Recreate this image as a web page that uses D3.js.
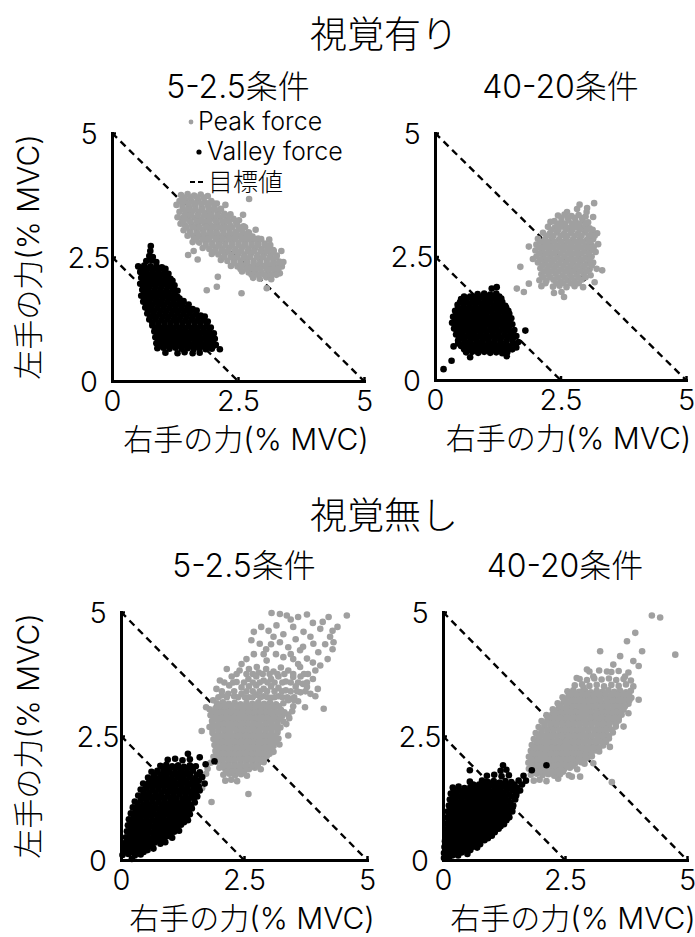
<!DOCTYPE html>
<html>
<head>
<meta charset="utf-8">
<script src="https://cdn.jsdelivr.net/npm/d3@7"></script>
<style>
  html, body { margin: 0; padding: 0; background: #fff; }
  svg text { font-family: "Inter", "Liberation Sans", "Noto Sans CJK JP", sans-serif; font-weight: 300; fill: #000; }
</style>
</head>
<body>
<svg id="chart" width="695" height="937"></svg>
<script>
// ---- labels ----
const visionTitles = ["視覚有り", "視覚無し"];
const conditionTitles = ["5-2.5条件", "40-20条件"];
const xTitle = "右手の力(% MVC)";
const yTitle = "左手の力(% MVC)";
const legendLabels = ["Peak force", "Valley force", "目標値"];
const tickValues = [0, 2.5, 5];
const tickLabels = ["0", "2.5", "5"];
// target lines: right + left = total
const targetTotals = [5, 2.5];

// ---- [right, left] force pairs (% MVC) ----
// with vision, 5-2.5 condition
const peakSeeA = [
 [1.37,3.75],[1.50,3.77],[1.63,3.74],[1.76,3.76],[1.90,3.73],[2.72,3.67],
 [1.34,3.63],[1.46,3.65],[1.58,3.62],[1.71,3.64],[1.84,3.61],[1.97,3.63],[2.08,3.58],
 [1.40,3.52],[1.53,3.50],[1.65,3.53],[1.78,3.51],[1.91,3.52],[2.03,3.49],[2.16,3.47],
 [1.34,3.41],[1.47,3.39],[1.59,3.42],[1.72,3.40],[1.85,3.38],[1.97,3.41],[2.10,3.39],[2.23,3.37],[2.35,3.36],
 [1.38,3.28],[1.51,3.27],[1.64,3.29],[1.77,3.26],[1.90,3.28],[2.02,3.27],[2.15,3.29],[2.28,3.25],[2.41,3.27],[2.52,3.24],
 [1.36,3.17],[1.45,3.14],[1.58,3.16],[1.71,3.15],[1.84,3.17],[1.96,3.14],[2.09,3.16],[2.22,3.15],[2.35,3.13],[2.48,3.16],[2.61,3.12],
 [1.42,3.04],[1.55,3.02],[1.68,3.05],[1.81,3.03],[1.94,3.04],[2.07,3.02],[2.20,3.05],[2.33,3.03],[2.46,3.01],[2.58,3.04],[2.71,3.00],
 [1.50,2.93],[1.62,2.91],[1.75,2.92],[1.88,2.90],[2.01,2.93],[2.14,2.91],[2.27,2.92],[2.40,2.90],[2.53,2.92],[2.66,2.89],[2.79,2.91],[2.90,2.87],
 [1.60,2.80],[1.73,2.79],[1.86,2.81],[1.99,2.78],[2.12,2.80],[2.25,2.79],[2.38,2.81],[2.51,2.78],[2.64,2.80],[2.77,2.78],[2.90,2.79],[3.03,2.77],
 [1.80,2.68],[1.93,2.66],[2.06,2.69],[2.19,2.67],[2.32,2.68],[2.45,2.66],[2.58,2.69],[2.71,2.67],[2.84,2.68],[2.97,2.66],[3.10,2.67],[3.20,2.64],
 [1.51,2.54],[1.98,2.56],[2.11,2.55],[2.24,2.57],[2.37,2.54],[2.50,2.56],[2.63,2.55],[2.76,2.57],[2.89,2.54],[3.02,2.56],[3.15,2.55],[3.27,2.53],
 [2.16,2.44],[2.29,2.42],[2.42,2.45],[2.55,2.43],[2.68,2.44],[2.81,2.42],[2.94,2.45],[3.07,2.43],[3.20,2.44],[3.32,2.41],
 [2.36,2.32],[2.49,2.31],[2.62,2.33],[2.75,2.30],[2.88,2.32],[3.01,2.31],[3.14,2.33],[3.27,2.30],[3.37,2.31],
 [2.58,2.21],[2.71,2.19],[2.84,2.20],[2.97,2.18],[3.10,2.21],[3.23,2.19],[3.33,2.17],
 [2.10,2.10],[2.80,2.08],[2.93,2.06],[3.06,2.09],[3.16,2.05],
 [1.88,1.83],[2.08,1.90],[2.57,1.77],[3.07,1.87],[1.70,2.45],
 [1.30,3.30],[1.28,3.55],[2.25,3.55],[2.60,3.35],[2.85,3.05],[3.12,2.85],[3.40,2.40],[3.36,2.62],[1.62,2.62]
];
// dense core, listed row by row as [left, [right, ...]]
const peakSeeARows = [
 [3.70,[1.43,1.56,1.69,1.82]],
 [3.58,[1.40,1.52,1.64,1.77,1.90,2.02]],
 [3.46,[1.41,1.53,1.66,1.79,1.92,2.04,2.16]],
 [3.34,[1.44,1.57,1.70,1.83,1.96,2.09,2.22,2.34]],
 [3.22,[1.42,1.55,1.68,1.80,1.93,2.06,2.19,2.32,2.45]],
 [3.10,[1.48,1.61,1.74,1.87,2.00,2.13,2.26,2.39,2.52,2.64]],
 [2.98,[1.56,1.69,1.82,1.95,2.08,2.21,2.34,2.47,2.60,2.72]],
 [2.86,[1.67,1.80,1.93,2.06,2.19,2.32,2.45,2.58,2.71,2.84,2.96]],
 [2.74,[1.86,1.99,2.12,2.25,2.38,2.51,2.64,2.77,2.90,3.03,3.14]],
 [2.62,[2.04,2.17,2.30,2.43,2.56,2.69,2.82,2.95,3.08,3.21]],
 [2.50,[2.22,2.35,2.48,2.61,2.74,2.87,3.00,3.13,3.26]],
 [2.38,[2.42,2.55,2.68,2.81,2.94,3.07,3.20,3.32]],
 [2.26,[2.55,2.68,2.81,2.94,3.07,3.20,3.30]],
 [2.14,[2.77,2.90,3.03,3.16,3.26]]
];
const valleySeeA = [
 [0.77,2.72],[0.76,2.62],[0.74,2.52],[0.81,2.50],
 [0.68,2.42],[0.79,2.43],[0.88,2.40],
 [0.52,2.31],[0.64,2.33],[0.76,2.31],[0.88,2.32],[0.99,2.29],
 [0.56,2.20],[0.68,2.21],[0.80,2.19],[0.92,2.21],[1.04,2.18],[1.12,2.16],
 [0.58,2.08],[0.70,2.09],[0.82,2.07],[0.94,2.09],[1.06,2.07],[1.16,2.06],
 [0.56,1.96],[0.68,1.97],[0.80,1.95],[0.92,1.97],[1.04,1.95],[1.16,1.96],[1.24,1.93],
 [0.60,1.84],[0.72,1.85],[0.84,1.83],[0.96,1.85],[1.08,1.83],[1.20,1.84],[1.30,1.82],
 [0.58,1.72],[0.70,1.73],[0.82,1.71],[0.94,1.73],[1.06,1.71],[1.18,1.72],[1.30,1.70],
 [0.62,1.60],[0.74,1.61],[0.86,1.59],[0.98,1.61],[1.10,1.59],[1.22,1.60],[1.34,1.58],[1.42,1.61],
 [0.66,1.48],[0.78,1.49],[0.90,1.47],[1.02,1.49],[1.14,1.47],[1.26,1.48],[1.38,1.46],[1.50,1.48],[1.60,1.45],
 [0.70,1.36],[0.82,1.37],[0.94,1.35],[1.06,1.37],[1.18,1.35],[1.30,1.36],[1.42,1.34],[1.54,1.36],[1.66,1.34],[1.76,1.32],
 [0.74,1.24],[0.86,1.25],[0.98,1.23],[1.10,1.25],[1.22,1.23],[1.34,1.24],[1.46,1.22],[1.58,1.24],[1.70,1.22],[1.82,1.23],[1.90,1.20],
 [0.80,1.12],[0.92,1.13],[1.04,1.11],[1.16,1.13],[1.28,1.11],[1.40,1.12],[1.52,1.10],[1.64,1.12],[1.76,1.10],[1.88,1.11],[1.96,1.08],
 [0.84,1.00],[0.96,1.01],[1.08,0.99],[1.20,1.01],[1.32,0.99],[1.44,1.00],[1.56,0.98],[1.68,1.00],[1.80,0.98],[1.92,0.99],[2.02,0.96],
 [0.86,0.88],[0.98,0.89],[1.10,0.87],[1.22,0.89],[1.34,0.87],[1.46,0.88],[1.58,0.86],[1.70,0.88],[1.82,0.86],[1.94,0.87],[2.04,0.85],
 [0.88,0.76],[1.00,0.77],[1.12,0.75],[1.24,0.77],[1.36,0.75],[1.48,0.76],[1.60,0.74],[1.72,0.76],[1.84,0.74],[1.96,0.75],[2.06,0.73],
 [0.90,0.66],[1.02,0.67],[1.14,0.65],[1.26,0.67],[1.38,0.65],[1.50,0.66],[1.62,0.64],[1.74,0.66],[1.86,0.64],[1.98,0.65],[2.14,0.64],
 [1.06,0.57],[1.30,0.56],[1.44,0.58],[1.60,0.56],[1.74,0.57]
];
const valleySeeARows = [
 [2.26,[0.58,0.70,0.82,0.94,1.06]],
 [2.14,[0.62,0.74,0.86,0.98,1.10]],
 [2.02,[0.62,0.74,0.86,0.98,1.10,1.20]],
 [1.90,[0.62,0.74,0.86,0.98,1.10,1.22]],
 [1.78,[0.64,0.76,0.88,1.00,1.12,1.24]],
 [1.66,[0.64,0.76,0.88,1.00,1.12,1.24,1.34]],
 [1.54,[0.68,0.80,0.92,1.04,1.16,1.28,1.40,1.52]],
 [1.42,[0.72,0.84,0.96,1.08,1.20,1.32,1.44,1.56,1.68]],
 [1.30,[0.76,0.88,1.00,1.12,1.24,1.36,1.48,1.60,1.72,1.84]],
 [1.18,[0.80,0.92,1.04,1.16,1.28,1.40,1.52,1.64,1.76,1.88]],
 [1.06,[0.86,0.98,1.10,1.22,1.34,1.46,1.58,1.70,1.82,1.94]],
 [0.94,[0.90,1.02,1.14,1.26,1.38,1.50,1.62,1.74,1.86,1.98]],
 [0.82,[0.92,1.04,1.16,1.28,1.40,1.52,1.64,1.76,1.88,2.00]],
 [0.71,[0.94,1.06,1.18,1.30,1.42,1.54,1.66,1.78,1.90,2.02]]
];
// with vision, 40-20 condition
const peakSeeB = [
 [3.17,3.58],[3.03,3.48],[2.83,3.46],[2.63,3.40],
 [2.45,3.33],[2.58,3.35],[2.72,3.32],[2.86,3.34],[3.00,3.31],
 [2.38,3.22],[2.52,3.20],[2.66,3.23],[2.80,3.21],[2.94,3.22],[3.05,3.19],
 [2.25,3.10],[2.39,3.09],[2.53,3.11],[2.67,3.08],[2.81,3.10],[2.95,3.09],[3.08,3.07],
 [2.15,2.98],[2.29,2.97],[2.43,2.99],[2.57,2.96],[2.71,2.98],[2.85,2.97],[2.99,2.99],[3.12,2.96],[3.23,2.97],
 [2.05,2.86],[2.19,2.85],[2.33,2.87],[2.47,2.84],[2.61,2.86],[2.75,2.85],[2.89,2.87],[3.03,2.84],[3.15,2.85],[1.87,2.70],
 [2.02,2.74],[2.16,2.73],[2.30,2.75],[2.44,2.72],[2.58,2.74],[2.72,2.73],[2.86,2.75],[3.00,2.72],[3.12,2.73],
 [2.00,2.62],[2.14,2.61],[2.28,2.63],[2.42,2.60],[2.56,2.62],[2.70,2.61],[2.84,2.63],[2.98,2.60],[3.10,2.62],[3.20,2.59],
 [2.02,2.50],[2.16,2.49],[2.30,2.51],[2.44,2.48],[2.58,2.50],[2.72,2.49],[2.86,2.51],[3.00,2.48],[3.12,2.50],
 [1.70,2.29],[2.05,2.38],[2.19,2.37],[2.33,2.39],[2.47,2.36],[2.61,2.38],[2.75,2.37],[2.89,2.39],[3.03,2.36],[3.15,2.38],
 [2.10,2.26],[2.24,2.25],[2.38,2.27],[2.52,2.24],[2.66,2.26],[2.80,2.25],[2.94,2.27],[3.08,2.24],[3.33,2.22],
 [2.12,2.14],[2.26,2.13],[2.40,2.15],[2.54,2.12],[2.68,2.14],[2.82,2.13],[2.96,2.15],[3.10,2.12],
 [2.08,2.02],[2.22,2.01],[2.36,2.03],[2.50,2.00],[2.64,2.02],[2.78,2.01],[2.92,2.03],[3.18,1.98],
 [1.63,1.85],[1.77,1.78],[1.87,1.95],[2.12,1.90],[2.35,1.89],[2.48,1.91],[2.62,1.88],[2.78,1.90],[2.95,1.88],
 [2.37,1.76],[2.52,1.78],[2.57,1.68],
 [2.30,3.20],[3.15,3.30],[3.25,2.75],[1.95,2.45],[3.22,2.25],[2.88,3.55],[3.02,3.40]
];
const peakSeeBRows = [
 [3.28,[2.52,2.65,2.79,2.93]],
 [3.16,[2.45,2.59,2.73,2.87,3.01]],
 [3.04,[2.32,2.46,2.60,2.74,2.88,3.02,3.14]],
 [2.92,[2.22,2.36,2.50,2.64,2.78,2.92,3.06,3.18]],
 [2.80,[2.10,2.24,2.38,2.52,2.66,2.80,2.94,3.08]],
 [2.68,[2.08,2.22,2.36,2.50,2.64,2.78,2.92,3.06,3.16]],
 [2.56,[2.08,2.22,2.36,2.50,2.64,2.78,2.92,3.06]],
 [2.44,[2.10,2.24,2.38,2.52,2.66,2.80,2.94,3.08]],
 [2.32,[2.14,2.28,2.42,2.56,2.70,2.84,2.98,3.12]],
 [2.20,[2.18,2.32,2.46,2.60,2.74,2.88,3.02]],
 [2.08,[2.16,2.30,2.44,2.58,2.72,2.86,3.00]],
 [1.96,[2.20,2.42,2.56,2.70,2.86]]
];
const valleySeeB = [
 [1.13,1.85],[1.23,1.88],
 [0.85,1.74],[0.98,1.75],[1.10,1.73],[1.22,1.75],
 [0.52,1.64],[0.64,1.65],[0.76,1.63],[0.88,1.65],[1.00,1.63],[1.12,1.64],[1.24,1.62],[1.32,1.65],
 [0.45,1.52],[0.57,1.53],[0.69,1.51],[0.81,1.53],[0.93,1.51],[1.05,1.52],[1.17,1.50],[1.29,1.52],[1.40,1.50],
 [0.40,1.40],[0.52,1.41],[0.64,1.39],[0.76,1.41],[0.88,1.39],[1.00,1.40],[1.12,1.38],[1.24,1.40],[1.36,1.38],[1.46,1.40],
 [0.36,1.28],[0.48,1.29],[0.60,1.27],[0.72,1.29],[0.84,1.27],[0.96,1.28],[1.08,1.26],[1.20,1.28],[1.32,1.26],[1.44,1.28],[1.52,1.25],
 [0.34,1.16],[0.46,1.17],[0.58,1.15],[0.70,1.17],[0.82,1.15],[0.94,1.16],[1.06,1.14],[1.18,1.16],[1.30,1.14],[1.42,1.16],[1.54,1.13],
 [0.38,1.04],[0.50,1.05],[0.62,1.03],[0.74,1.05],[0.86,1.03],[0.98,1.04],[1.10,1.02],[1.22,1.04],[1.34,1.02],[1.46,1.04],[1.58,1.01],[1.80,1.00],
 [0.42,0.92],[0.54,0.93],[0.66,0.91],[0.78,0.93],[0.90,0.91],[1.02,0.92],[1.14,0.90],[1.26,0.92],[1.38,0.90],[1.50,0.92],[1.62,0.89],
 [0.46,0.80],[0.58,0.81],[0.70,0.79],[0.82,0.81],[0.94,0.79],[1.06,0.80],[1.18,0.78],[1.30,0.80],[1.42,0.78],[1.54,0.80],[1.66,0.77],
 [0.37,0.68],[0.52,0.69],[0.64,0.67],[0.76,0.69],[0.88,0.67],[1.00,0.68],[1.12,0.66],[1.24,0.68],[1.36,0.66],[1.48,0.68],[1.62,0.66],
 [0.62,0.56],[0.74,0.57],[0.86,0.55],[0.98,0.57],[1.10,0.55],[1.22,0.56],[1.34,0.54],[1.44,0.56],
 [0.70,0.46],[1.43,0.48],
 [0.17,0.22],[0.33,0.39]
];
const valleySeeBRows = [
 [1.69,[0.58,0.70,0.82,0.94,1.06,1.18,1.28]],
 [1.58,[0.50,0.62,0.74,0.86,0.98,1.10,1.22,1.34]],
 [1.46,[0.46,0.58,0.70,0.82,0.94,1.06,1.18,1.30,1.42]],
 [1.34,[0.42,0.54,0.66,0.78,0.90,1.02,1.14,1.26,1.38,1.48]],
 [1.22,[0.40,0.52,0.64,0.76,0.88,1.00,1.12,1.24,1.36,1.48]],
 [1.10,[0.40,0.52,0.64,0.76,0.88,1.00,1.12,1.24,1.36,1.48]],
 [0.98,[0.44,0.56,0.68,0.80,0.92,1.04,1.16,1.28,1.40,1.52]],
 [0.86,[0.48,0.60,0.72,0.84,0.96,1.08,1.20,1.32,1.44,1.56]],
 [0.74,[0.46,0.58,0.70,0.82,0.94,1.06,1.18,1.30,1.42,1.56]],
 [0.62,[0.58,0.70,0.82,0.94,1.06,1.18,1.30,1.42,1.54]]
];
// without vision, 5-2.5 condition
const peakNoA = [
 [3.06,4.98],[3.23,4.96],[3.37,4.93],[3.78,4.95],[4.22,4.90],[4.59,4.93],
 [3.16,4.73],[3.71,4.60],[4.05,4.66],[4.25,4.50],[4.32,4.39],[3.50,4.70],[3.90,4.78],[4.40,4.70],
 [2.65,4.43],[2.82,4.36],[3.10,4.50],[3.23,4.39],[3.40,4.29],[3.64,4.23],[3.91,4.36],[4.01,4.19],[3.30,4.55],[3.55,4.45],[4.15,4.35],[2.95,4.25],
 [3.78,4.06],[4.05,3.92],[3.30,4.09],[2.96,4.02],[2.76,3.89],[3.15,4.15],[3.50,4.05],[3.90,3.98],[3.60,3.95],
 [2.41,3.82],[2.59,3.65],[2.35,3.59],[2.01,3.62],[1.94,3.45],[2.18,3.35],[1.87,3.22],[1.73,3.08],
 [3.95,3.82],[3.64,3.89],[3.50,3.69],[3.78,3.49],[4.12,3.05],[3.74,3.08],[3.40,2.51],
 [2.70,4.60],[2.85,4.70],[3.00,4.62],[3.45,4.85],[3.60,4.90],[4.10,4.80],[4.30,4.62],[2.90,4.15],[3.05,4.35],[3.45,4.15],
 [3.70,4.30],[3.85,4.50],[4.20,4.05],[4.30,4.25],[2.55,4.05],[2.70,4.15],[2.45,3.95],[2.60,3.85],[3.90,3.65],[4.00,3.45],
 [3.95,3.30],[2.25,3.70],[2.15,3.85],[3.70,3.55],[3.85,3.35],
 [2.80,3.78],[2.95,3.85],[3.10,3.80],[3.25,3.88],[3.40,3.82],[3.20,3.70],[3.05,3.65],[2.90,3.62],[2.75,3.70],[3.35,3.60],[3.65,3.70],[3.80,3.75],
 [2.20,3.52],[2.45,3.48],[2.60,3.50],[2.75,3.52],[2.90,3.45],[3.05,3.50],[3.20,3.47],[3.35,3.42],[3.55,3.50],[3.65,3.38],
 [2.05,3.32],[2.30,3.30],[2.45,3.35],[2.60,3.28],[2.75,3.33],[2.90,3.30],[3.05,3.27],[3.20,3.30],[3.45,3.25],[3.60,3.20],
 [1.95,3.16],[2.07,3.18],[2.19,3.15],[2.31,3.17],[2.43,3.14],[2.55,3.17],[2.67,3.15],[2.79,3.18],[2.91,3.15],[3.03,3.17],[3.15,3.14],[3.30,3.16],
 [1.80,3.04],[1.92,3.06],[2.04,3.03],[2.16,3.05],[2.28,3.02],[2.40,3.05],[2.52,3.03],[2.64,3.06],[2.76,3.03],[2.88,3.05],[3.00,3.02],[3.12,3.05],[3.25,3.03],
 [1.82,2.92],[1.94,2.94],[2.06,2.91],[2.18,2.93],[2.30,2.90],[2.42,2.93],[2.54,2.91],[2.66,2.94],[2.78,2.91],[2.90,2.93],[3.02,2.90],[3.14,2.93],[3.28,2.91],[3.40,2.93],
 [1.85,2.80],[1.97,2.82],[2.09,2.79],[2.21,2.81],[2.33,2.78],[2.45,2.81],[2.57,2.79],[2.69,2.82],[2.81,2.79],[2.93,2.81],[3.05,2.78],[3.17,2.81],[3.30,2.79],
 [1.80,2.68],[1.92,2.70],[2.04,2.67],[2.16,2.69],[2.28,2.66],[2.40,2.69],[2.52,2.67],[2.64,2.70],[2.76,2.67],[2.88,2.69],[3.00,2.66],[3.12,2.69],[3.24,2.67],
 [1.64,2.60],[1.86,2.56],[1.98,2.58],[2.10,2.55],[2.22,2.57],[2.34,2.54],[2.46,2.57],[2.58,2.55],[2.70,2.58],[2.82,2.55],[2.94,2.57],[3.06,2.54],[3.18,2.57],
 [1.88,2.44],[2.00,2.46],[2.12,2.43],[2.24,2.45],[2.36,2.42],[2.48,2.45],[2.60,2.43],[2.72,2.46],[2.84,2.43],[2.96,2.45],[3.08,2.42],[3.20,2.45],
 [1.90,2.32],[2.02,2.34],[2.14,2.31],[2.26,2.33],[2.38,2.30],[2.50,2.33],[2.62,2.31],[2.74,2.34],[2.86,2.31],[2.98,2.33],[3.10,2.30],[3.22,2.33],
 [1.92,2.20],[2.04,2.22],[2.16,2.19],[2.28,2.21],[2.40,2.18],[2.52,2.21],[2.64,2.19],[2.76,2.22],[2.88,2.19],[3.00,2.21],[3.10,2.18],
 [1.88,2.08],[2.00,2.10],[2.12,2.07],[2.24,2.09],[2.36,2.06],[2.48,2.09],[2.60,2.07],[2.72,2.10],[2.84,2.07],[2.96,2.09],
 [1.82,1.96],[1.95,1.98],[2.07,1.95],[2.19,1.97],[2.31,1.94],[2.43,1.97],[2.55,1.95],[2.67,1.98],[2.79,1.95],[2.90,1.97],
 [1.76,1.84],[2.00,1.86],[2.12,1.83],[2.24,1.85],[2.36,1.82],[2.48,1.85],[2.60,1.83],[2.72,1.86],[2.84,1.83],
 [1.73,1.74],[2.08,1.72],[2.20,1.74],[2.32,1.71],[2.44,1.73],[2.56,1.70],
 [2.12,1.60],[2.24,1.62],[2.36,1.59],
 [2.59,1.33],[1.84,1.17],[1.65,1.45],
 [3.36,2.74],[3.42,2.86],[3.48,3.00],[3.50,3.10]
];
const peakNoARows = [
 [3.75,[2.35,2.55,2.68,2.88,3.02,3.18,3.32,3.50,3.72]],
 [3.58,[2.10,2.28,2.50,2.68,2.82,2.98,3.12,3.28,3.45,3.60,3.78]],
 [3.40,[2.05,2.30,2.55,2.68,2.82,2.97,3.12,3.27,3.45,3.58,3.75]],
 [3.28,[1.98,2.15,2.38,2.52,2.68,2.83,2.98,3.12,3.28,3.38,3.52]],
 [3.22,[3.40,3.52]],
 [3.10,[2.01,2.13,2.25,2.37,2.49,2.61,2.73,2.85,2.97,3.09,3.21]],
 [2.98,[1.88,2.00,2.12,2.24,2.36,2.48,2.60,2.72,2.84,2.96,3.08,3.20,3.32]],
 [2.86,[1.91,2.03,2.15,2.27,2.39,2.51,2.63,2.75,2.87,2.99,3.11,3.23]],
 [2.74,[1.86,1.98,2.10,2.22,2.34,2.46,2.58,2.70,2.82,2.94,3.06,3.18]],
 [2.62,[1.86,1.98,2.10,2.22,2.34,2.46,2.58,2.70,2.82,2.94,3.06,3.18]],
 [2.50,[1.94,2.06,2.18,2.30,2.42,2.54,2.66,2.78,2.90,3.02,3.14]],
 [2.38,[1.96,2.08,2.20,2.32,2.44,2.56,2.68,2.80,2.92,3.04,3.16]],
 [2.26,[1.98,2.10,2.22,2.34,2.46,2.58,2.70,2.82,2.94,3.06]],
 [2.14,[1.94,2.06,2.18,2.30,2.42,2.54,2.66,2.78,2.90,3.02]],
 [2.02,[1.94,2.06,2.18,2.30,2.42,2.54,2.66,2.78,2.90]],
 [1.90,[2.06,2.18,2.30,2.42,2.54,2.66,2.78]],
 [1.78,[2.14,2.26,2.38,2.50]]
];
const valleyNoA = [
 [1.36,2.14],[1.60,2.07],
 [0.95,2.02],[1.10,2.04],[1.25,2.01],[1.40,2.03],
 [0.80,1.90],[0.92,1.92],[1.04,1.89],[1.16,1.91],[1.28,1.88],[1.40,1.91],[1.52,1.89],[1.72,1.93],
 [0.62,1.78],[0.74,1.80],[0.86,1.77],[0.98,1.79],[1.10,1.76],[1.22,1.79],[1.34,1.77],[1.46,1.80],[1.60,1.77],
 [0.55,1.66],[0.67,1.68],[0.79,1.65],[0.91,1.67],[1.03,1.64],[1.15,1.67],[1.27,1.65],[1.39,1.68],[1.51,1.65],[1.65,1.67],
 [0.45,1.54],[0.57,1.56],[0.69,1.53],[0.81,1.55],[0.93,1.52],[1.05,1.55],[1.17,1.53],[1.29,1.56],[1.41,1.53],[1.53,1.55],[1.70,1.54],
 [0.40,1.42],[0.52,1.44],[0.64,1.41],[0.76,1.43],[0.88,1.40],[1.00,1.43],[1.12,1.41],[1.24,1.44],[1.36,1.41],[1.48,1.43],[1.60,1.40],
 [0.35,1.30],[0.47,1.32],[0.59,1.29],[0.71,1.31],[0.83,1.28],[0.95,1.31],[1.07,1.29],[1.19,1.32],[1.31,1.29],[1.43,1.31],[1.55,1.28],
 [0.28,1.18],[0.40,1.20],[0.52,1.17],[0.64,1.19],[0.76,1.16],[0.88,1.19],[1.00,1.17],[1.12,1.20],[1.24,1.17],[1.36,1.19],[1.50,1.16],
 [0.24,1.06],[0.36,1.08],[0.48,1.05],[0.60,1.07],[0.72,1.04],[0.84,1.07],[0.96,1.05],[1.08,1.08],[1.20,1.05],[1.32,1.07],[1.44,1.04],
 [0.20,0.94],[0.32,0.96],[0.44,0.93],[0.56,0.95],[0.68,0.92],[0.80,0.95],[0.92,0.93],[1.04,0.96],[1.16,0.93],[1.28,0.95],[1.40,0.92],
 [0.16,0.82],[0.28,0.84],[0.40,0.81],[0.52,0.83],[0.64,0.80],[0.76,0.83],[0.88,0.81],[1.00,0.84],[1.12,0.81],[1.24,0.83],[1.36,0.80],
 [0.14,0.70],[0.26,0.72],[0.38,0.69],[0.50,0.71],[0.62,0.68],[0.74,0.71],[0.86,0.69],[0.98,0.72],[1.10,0.69],[1.22,0.71],
 [0.12,0.58],[0.24,0.60],[0.36,0.57],[0.48,0.59],[0.60,0.56],[0.72,0.59],[0.84,0.57],[0.96,0.60],[1.08,0.57],[1.18,0.59],
 [0.10,0.46],[0.22,0.48],[0.34,0.45],[0.46,0.47],[0.58,0.44],[0.70,0.47],[0.82,0.45],[0.94,0.48],[1.04,0.45],
 [0.08,0.34],[0.20,0.36],[0.32,0.33],[0.44,0.35],[0.56,0.32],[0.68,0.35],[0.80,0.33],[0.90,0.36],
 [0.06,0.22],[0.18,0.24],[0.30,0.21],[0.42,0.23],[0.54,0.20],[0.66,0.23],
 [0.03,0.10],[0.15,0.12],[0.28,0.09],[0.40,0.11],
 [0.22,0.02],[1.90,1.99]
];
const valleyNoARows = [
 [1.84,[0.86,0.98,1.10,1.22,1.34,1.46]],
 [1.72,[0.68,0.80,0.92,1.04,1.16,1.28,1.40,1.54]],
 [1.60,[0.61,0.73,0.85,0.97,1.09,1.21,1.33,1.45,1.58]],
 [1.48,[0.51,0.63,0.75,0.87,0.99,1.11,1.23,1.35,1.47,1.58]],
 [1.36,[0.46,0.58,0.70,0.82,0.94,1.06,1.18,1.30,1.42,1.52]],
 [1.24,[0.41,0.53,0.65,0.77,0.89,1.01,1.13,1.25,1.37,1.48]],
 [1.12,[0.34,0.46,0.58,0.70,0.82,0.94,1.06,1.18,1.30,1.42]],
 [1.00,[0.30,0.42,0.54,0.66,0.78,0.90,1.02,1.14,1.26,1.38]],
 [0.88,[0.26,0.38,0.50,0.62,0.74,0.86,0.98,1.10,1.22,1.34]],
 [0.76,[0.22,0.34,0.46,0.58,0.70,0.82,0.94,1.06,1.18,1.28]],
 [0.64,[0.20,0.32,0.44,0.56,0.68,0.80,0.92,1.04,1.14]],
 [0.52,[0.18,0.30,0.42,0.54,0.66,0.78,0.90,1.00]],
 [0.40,[0.16,0.28,0.40,0.52,0.64,0.76,0.86]],
 [0.28,[0.14,0.26,0.38,0.50,0.62]],
 [0.16,[0.10,0.22,0.34,0.46]]
];
// without vision, 40-20 condition
const peakNoB = [
 [4.28,4.93],[4.45,4.89],[4.76,4.14],[3.94,4.58],[3.77,4.41],[4.08,4.21],[3.22,4.21],[3.63,4.11],[3.90,4.01],[4.01,3.91],
 [3.49,3.94],[2.95,3.84],[3.08,3.70],[3.36,3.80],[3.73,3.70],[3.90,3.50],[2.74,3.67],[2.88,3.47],[4.01,3.23],[3.80,2.96],
 [3.70,2.69],[3.42,2.28],[3.46,1.57],[3.08,1.95],[2.81,1.68],[2.64,1.68],[2.36,1.64],
 [3.00,3.80],[3.20,3.82],[3.45,3.79],[3.60,3.81],[3.80,3.78],
 [2.80,3.65],[2.95,3.63],[3.10,3.66],[3.25,3.64],[3.40,3.66],[3.55,3.63],[3.70,3.65],[3.85,3.62],
 [2.70,3.52],[2.85,3.54],[3.00,3.51],[3.15,3.53],[3.30,3.50],[3.45,3.53],[3.60,3.51],[3.75,3.54],
 [2.55,3.40],[2.67,3.42],[2.79,3.39],[2.91,3.41],[3.03,3.38],[3.15,3.41],[3.27,3.39],[3.39,3.42],[3.51,3.39],[3.63,3.41],[3.75,3.38],[3.85,3.41],
 [2.45,3.28],[2.57,3.30],[2.69,3.27],[2.81,3.29],[2.93,3.26],[3.05,3.29],[3.17,3.27],[3.29,3.30],[3.41,3.27],[3.53,3.29],[3.65,3.26],[3.77,3.29],[3.86,3.27],
 [2.35,3.16],[2.47,3.18],[2.59,3.15],[2.71,3.17],[2.83,3.14],[2.95,3.17],[3.07,3.15],[3.19,3.18],[3.31,3.15],[3.43,3.17],[3.55,3.14],[3.67,3.17],[3.80,3.15],
 [2.25,3.04],[2.37,3.06],[2.49,3.03],[2.61,3.05],[2.73,3.02],[2.85,3.05],[2.97,3.03],[3.09,3.06],[3.21,3.03],[3.33,3.05],[3.45,3.02],[3.57,3.05],[3.70,3.03],
 [2.12,2.92],[2.24,2.94],[2.36,2.91],[2.48,2.93],[2.60,2.90],[2.72,2.93],[2.84,2.91],[2.96,2.94],[3.08,2.91],[3.20,2.93],[3.32,2.90],[3.44,2.93],[3.56,2.91],[3.66,2.93],
 [2.02,2.80],[2.14,2.82],[2.26,2.79],[2.38,2.81],[2.50,2.78],[2.62,2.81],[2.74,2.79],[2.86,2.82],[2.98,2.79],[3.10,2.81],[3.22,2.78],[3.34,2.81],[3.46,2.79],[3.60,2.81],
 [1.96,2.68],[2.08,2.70],[2.20,2.67],[2.32,2.69],[2.44,2.66],[2.56,2.69],[2.68,2.67],[2.80,2.70],[2.92,2.67],[3.04,2.69],[3.16,2.66],[3.28,2.69],[3.40,2.67],[3.54,2.69],
 [1.90,2.56],[2.02,2.58],[2.14,2.55],[2.26,2.57],[2.38,2.54],[2.50,2.57],[2.62,2.55],[2.74,2.58],[2.86,2.55],[2.98,2.57],[3.10,2.54],[3.22,2.57],[3.34,2.55],[3.48,2.57],
 [1.86,2.44],[1.98,2.46],[2.10,2.43],[2.22,2.45],[2.34,2.42],[2.46,2.45],[2.58,2.43],[2.70,2.46],[2.82,2.43],[2.94,2.45],[3.06,2.42],[3.18,2.45],[3.30,2.43],[3.40,2.45],
 [1.82,2.32],[1.94,2.34],[2.06,2.31],[2.18,2.33],[2.30,2.30],[2.42,2.33],[2.54,2.31],[2.66,2.34],[2.78,2.31],[2.90,2.33],[3.02,2.30],[3.14,2.33],[3.28,2.31],
 [1.80,2.20],[1.92,2.22],[2.04,2.19],[2.16,2.21],[2.28,2.18],[2.40,2.21],[2.52,2.19],[2.64,2.22],[2.76,2.19],[2.88,2.21],[3.00,2.18],[3.12,2.21],[3.20,2.19],
 [1.76,2.08],[1.88,2.10],[2.00,2.07],[2.12,2.09],[2.24,2.06],[2.36,2.09],[2.48,2.07],[2.60,2.10],[2.72,2.07],[2.84,2.09],[2.96,2.06],[3.05,2.09],
 [1.75,1.96],[1.87,1.98],[1.99,1.95],[2.11,1.97],[2.23,1.94],[2.35,1.97],[2.47,1.95],[2.59,1.98],[2.71,1.95],[2.83,1.97],[2.90,1.94],
 [1.76,1.84],[1.88,1.86],[2.00,1.83],[2.12,1.85],[2.24,1.82],[2.36,1.85],[2.48,1.83],[2.60,1.86],[2.75,1.83],
 [1.80,1.72],[1.92,1.74],[2.04,1.71],[2.16,1.73],[2.28,1.70],[2.40,1.73],[2.58,1.71],
 [1.86,1.60],[1.98,1.62],[2.12,1.59]
];
const peakNoBRows = [
 [3.34,[2.61,2.73,2.85,2.97,3.09,3.21,3.33,3.45,3.57,3.69,3.81]],
 [3.22,[2.51,2.63,2.75,2.87,2.99,3.11,3.23,3.35,3.47,3.59,3.71,3.82]],
 [3.10,[2.41,2.53,2.65,2.77,2.89,3.01,3.13,3.25,3.37,3.49,3.61,3.73]],
 [2.98,[2.30,2.42,2.54,2.66,2.78,2.90,3.02,3.14,3.26,3.38,3.50,3.62]],
 [2.86,[2.18,2.30,2.42,2.54,2.66,2.78,2.90,3.02,3.14,3.26,3.38,3.50,3.60]],
 [2.74,[2.08,2.20,2.32,2.44,2.56,2.68,2.80,2.92,3.04,3.16,3.28,3.40,3.54]],
 [2.62,[2.02,2.14,2.26,2.38,2.50,2.62,2.74,2.86,2.98,3.10,3.22,3.34,3.46]],
 [2.50,[1.96,2.08,2.20,2.32,2.44,2.56,2.68,2.80,2.92,3.04,3.16,3.28,3.40]],
 [2.38,[1.92,2.04,2.16,2.28,2.40,2.52,2.64,2.76,2.88,3.00,3.12,3.24,3.34]],
 [2.26,[1.88,2.00,2.12,2.24,2.36,2.48,2.60,2.72,2.84,2.96,3.08,3.20]],
 [2.14,[1.84,1.96,2.08,2.20,2.32,2.44,2.56,2.68,2.80,2.92,3.04]],
 [2.02,[1.82,1.94,2.06,2.18,2.30,2.42,2.54,2.66,2.78,2.90]],
 [1.90,[1.82,1.94,2.06,2.18,2.30,2.42,2.54,2.66]],
 [1.78,[1.86,1.98,2.10,2.22,2.34,2.46]]
];
const valleyNoB = [
 [1.23,1.91],[1.82,1.81],[0.55,1.81],[1.18,1.80],[1.30,1.82],
 [0.90,1.70],[1.05,1.72],[1.20,1.69],[1.35,1.71],[1.65,1.70],
 [0.55,1.58],[0.80,1.60],[0.92,1.57],[1.04,1.59],[1.16,1.56],[1.28,1.59],[1.40,1.57],[1.55,1.60],
 [0.20,1.46],[0.32,1.48],[0.44,1.45],[0.56,1.47],[0.68,1.44],[0.80,1.47],[0.92,1.45],[1.04,1.48],[1.16,1.45],[1.28,1.47],[1.40,1.44],[1.52,1.46],
 [0.16,1.34],[0.28,1.36],[0.40,1.33],[0.52,1.35],[0.64,1.32],[0.76,1.35],[0.88,1.33],[1.00,1.36],[1.12,1.33],[1.24,1.35],[1.36,1.32],[1.50,1.34],
 [0.14,1.22],[0.26,1.24],[0.38,1.21],[0.50,1.23],[0.62,1.20],[0.74,1.23],[0.86,1.21],[0.98,1.24],[1.10,1.21],[1.22,1.23],[1.34,1.20],[1.48,1.22],
 [0.12,1.10],[0.24,1.12],[0.36,1.09],[0.48,1.11],[0.60,1.08],[0.72,1.11],[0.84,1.09],[0.96,1.12],[1.08,1.09],[1.20,1.11],[1.32,1.08],[1.44,1.10],
 [0.10,0.98],[0.22,1.00],[0.34,0.97],[0.46,0.99],[0.58,0.96],[0.70,0.99],[0.82,0.97],[0.94,1.00],[1.06,0.97],[1.18,0.99],[1.30,0.96],[1.42,0.98],
 [0.08,0.86],[0.20,0.88],[0.32,0.85],[0.44,0.87],[0.56,0.84],[0.68,0.87],[0.80,0.85],[0.92,0.88],[1.04,0.85],[1.16,0.87],[1.28,0.84],[1.36,0.86],
 [0.07,0.74],[0.19,0.76],[0.31,0.73],[0.43,0.75],[0.55,0.72],[0.67,0.75],[0.79,0.73],[0.91,0.76],[1.03,0.73],[1.15,0.75],[1.25,0.72],
 [0.06,0.62],[0.18,0.64],[0.30,0.61],[0.42,0.63],[0.54,0.60],[0.66,0.63],[0.78,0.61],[0.90,0.64],[1.02,0.61],[1.14,0.63],
 [0.05,0.50],[0.17,0.52],[0.29,0.49],[0.41,0.51],[0.53,0.48],[0.65,0.51],[0.77,0.49],[0.89,0.52],[1.00,0.49],
 [0.04,0.38],[0.16,0.40],[0.28,0.37],[0.40,0.39],[0.52,0.36],[0.64,0.39],[0.76,0.37],[0.85,0.40],
 [0.03,0.26],[0.15,0.28],[0.27,0.25],[0.39,0.27],[0.51,0.24],[0.62,0.27],[0.70,0.25],
 [0.02,0.14],[0.14,0.16],[0.26,0.13],[0.38,0.15],[0.50,0.12],
 [0.02,0.04],[0.12,0.03],
 [1.62,1.52],[1.70,1.60],[1.58,1.40],[1.50,1.30],[2.12,1.91]
];
const valleyNoBRows = [
 [1.52,[0.62,0.74,0.86,0.98,1.10,1.22,1.34,1.46]],
 [1.40,[0.22,0.34,0.46,0.58,0.70,0.82,0.94,1.06,1.18,1.30,1.42,1.54]],
 [1.28,[0.20,0.32,0.44,0.56,0.68,0.80,0.92,1.04,1.16,1.28,1.40]],
 [1.16,[0.18,0.30,0.42,0.54,0.66,0.78,0.90,1.02,1.14,1.26,1.38]],
 [1.04,[0.16,0.28,0.40,0.52,0.64,0.76,0.88,1.00,1.12,1.24,1.36]],
 [0.92,[0.14,0.26,0.38,0.50,0.62,0.74,0.86,0.98,1.10,1.22,1.34]],
 [0.80,[0.13,0.25,0.37,0.49,0.61,0.73,0.85,0.97,1.09,1.21,1.30]],
 [0.68,[0.12,0.24,0.36,0.48,0.60,0.72,0.84,0.96,1.08,1.18]],
 [0.56,[0.11,0.23,0.35,0.47,0.59,0.71,0.83,0.95,1.06]],
 [0.44,[0.10,0.22,0.34,0.46,0.58,0.70,0.82,0.92]],
 [0.32,[0.09,0.21,0.33,0.45,0.57,0.68,0.76]],
 [0.20,[0.08,0.20,0.32,0.44,0.56]],
 [0.09,[0.07,0.19,0.31]]
];

// ---- drawing ----
const svg = d3.select("#chart");
const peakColor = "#a0a0a0";
const dotR = 3.3;

// rows of [left, [right...]] -> [right, left] pairs
const unrow = rows => rows.flatMap(([l, rs]) => rs.map(r => [r, l]));

const panels = [
  { peak: peakSeeA.concat(unrow(peakSeeARows)), valley: valleySeeA.concat(unrow(valleySeeARows)),
    left: 112, right: 364, top: 133, bottom: 381, legend: true },
  { peak: peakSeeB.concat(unrow(peakSeeBRows)), valley: valleySeeB.concat(unrow(valleySeeBRows)),
    left: 435, right: 686, top: 133, bottom: 380 },
  { peak: peakNoA.concat(unrow(peakNoARows)), valley: valleyNoA.concat(unrow(valleyNoARows)),
    left: 121, right: 367, top: 612, bottom: 860 },
  { peak: peakNoB.concat(unrow(peakNoBRows)), valley: valleyNoB.concat(unrow(valleyNoBRows)),
    left: 443, right: 687, top: 612, bottom: 860 }
];

// row titles
const rowTitleY = [48, 529];
visionTitles.forEach((t, i) => {
  svg.append("text").attr("x", 384).attr("y", rowTitleY[i])
    .attr("text-anchor", "middle").style("font-size", "37px").text(t);
});

panels.forEach((p, i) => {
  const col = i % 2;
  const x = d3.scaleLinear().domain([0, 5]).range([p.left, p.right]);
  const y = d3.scaleLinear().domain([0, 5]).range([p.bottom, p.top]);
  const g = svg.append("g");

  // condition title
  g.append("text").attr("x", (p.left + p.right) / 2).attr("y", p.top - 35)
    .attr("text-anchor", "middle").style("font-size", "32px").text(conditionTitles[col]);

  // target lines
  g.append("g").selectAll("line").data(targetTotals).join("line")
    .attr("x1", x(0)).attr("y1", d => y(d))
    .attr("x2", d => x(d)).attr("y2", y(0))
    .attr("stroke", "#000").attr("stroke-width", 2.4).attr("stroke-dasharray", "7 5");

  // peak and valley forces
  g.append("g").selectAll("circle").data(p.peak).join("circle")
    .attr("cx", d => x(d[0])).attr("cy", d => y(d[1])).attr("r", dotR).attr("fill", peakColor);
  g.append("g").selectAll("circle").data(p.valley).join("circle")
    .attr("cx", d => x(d[0])).attr("cy", d => y(d[1])).attr("r", dotR).attr("fill", "#000");

  // axes
  const xAxis = d3.axisBottom(x).tickValues(tickValues).tickFormat((d, k) => tickLabels[k])
    .tickSizeInner(-4).tickSizeOuter(0).tickPadding(9);
  const yAxis = d3.axisLeft(y).tickValues(tickValues).tickFormat((d, k) => tickLabels[k])
    .tickSizeInner(-4).tickSizeOuter(0).tickPadding(9);

  const gx = g.append("g").attr("transform", `translate(0,${p.bottom})`).call(xAxis);
  const gy = g.append("g").attr("transform", `translate(${p.left},0)`).call(yAxis);
  [gx, gy].forEach(a => {
    a.attr("font-family", null).attr("font-size", null);
    a.select(".domain").attr("stroke-width", 3).attr("stroke-linecap", "square");
    a.selectAll(".tick line").attr("stroke-width", 2.5);
    a.selectAll(".tick text").style("font-size", "29px");
  });
  gy.selectAll(".tick text").attr("text-anchor", "middle").attr("x", -23).attr("dy", "0.36em");

  // axis titles
  g.append("text").attr("x", (p.left + p.right) / 2 + 8).attr("y", p.bottom + 69)
    .attr("text-anchor", "middle").style("font-size", "30px").text(xTitle);
  if (col === 0) {
    g.append("text").attr("transform", `translate(28,${(p.top + p.bottom) / 2}) rotate(-90)`)
      .attr("text-anchor", "middle").attr("dominant-baseline", "central")
      .style("font-size", "30px").text(yTitle);
  }

  // legend
  if (p.legend) {
    const lg = g.append("g");
    lg.append("circle").attr("cx", 191).attr("cy", 122).attr("r", 2.4).attr("fill", peakColor);
    lg.append("circle").attr("cx", 199).attr("cy", 152).attr("r", 2.6).attr("fill", "#000");
    lg.append("line").attr("x1", 190).attr("x2", 205).attr("y1", 182).attr("y2", 182)
      .attr("stroke", "#000").attr("stroke-width", 2).attr("stroke-dasharray", "5 3");
    const lx = [198, 207, 208];
    const ly = [130, 160, 191];
    legendLabels.forEach((t, k) => {
      lg.append("text").attr("x", lx[k]).attr("y", ly[k]).style("font-size", "25px").text(t);
    });
  }
});
</script>
</body>
</html>
